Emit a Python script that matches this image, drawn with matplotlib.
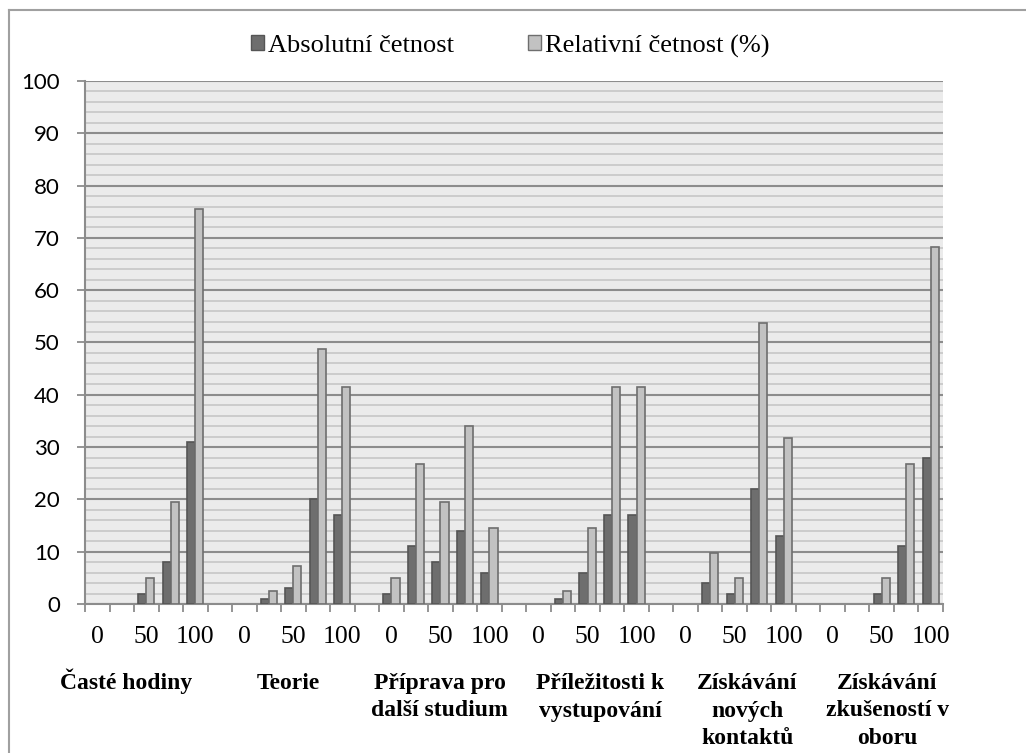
import matplotlib
matplotlib.use("Agg")
import matplotlib.pyplot as plt
import matplotlib.transforms as mtransforms
from matplotlib.patches import Patch
from matplotlib.lines import Line2D
import numpy as np

# data
groups = ['Časté hodiny', 'Teorie', 'Příprava pro\ndalší studium',
          'Příležitosti k\nvystupování', 'Získávání\nnových\nkontaktů',
          'Získávání\nzkušeností v\noboru']
levels = ['0', '25', '50', '75', '100']
absolute = [[0, 0, 2, 8, 31],
            [0, 1, 3, 20, 17],
            [2, 11, 8, 14, 6],
            [0, 1, 6, 17, 17],
            [0, 4, 2, 22, 13],
            [0, 0, 2, 11, 28]]
relative = [[0, 0, 4.9, 19.5, 75.6],
            [0, 2.4, 7.3, 48.8, 41.5],
            [4.9, 26.8, 19.5, 34.1, 14.6],
            [0, 2.4, 14.6, 41.5, 41.5],
            [0, 9.8, 4.9, 53.7, 31.7],
            [0, 0, 4.9, 26.8, 68.3]]
series_names = ['Absolutní četnost', 'Relativní četnost (%)']

W, H = 1026, 753
dark_fc, dark_ec = '#6e6e6e', '#555555'
light_fc, light_ec = '#c2c2c2', '#6e6e6e'
serif = 'Liberation Serif'

fig = plt.figure(figsize=(W / 100, H / 100), dpi=100)
ax = fig.add_axes([85 / W, 1 - 604 / H, (943 - 85) / W, (604 - 81) / H])
ax.set_facecolor('#ebebeb')

# one blank slot between groups
slot = len(levels) + 1
n_slots = slot * len(groups) - 1
bw = 0.33
for g in range(len(groups)):
    x = g * slot + np.arange(len(levels))
    # no outline for empty bars, Excel draws nothing there
    lw_abs = [1.2 if v > 0 else 0 for v in absolute[g]]
    lw_rel = [1.2 if v > 0 else 0 for v in relative[g]]
    ax.bar(x - bw / 2, absolute[g], bw, color=dark_fc, edgecolor=dark_ec,
           linewidth=lw_abs, zorder=3)
    ax.bar(x + bw / 2, relative[g], bw, color=light_fc, edgecolor=light_ec,
           linewidth=lw_rel, zorder=3)

cat_labels = []
for g in range(len(groups)):
    cat_labels += levels + ['']
cat_labels = cat_labels[:n_slots]

ax.set_xlim(-0.5, n_slots - 0.5)
ax.set_ylim(0, 100)

# x: labels on every second slot, tick marks at slot borders
ax.set_xticks(np.arange(0, n_slots, 2))
ax.set_xticklabels([cat_labels[i] for i in range(0, n_slots, 2)],
                   fontfamily=serif, fontsize=18.5)
ax.set_xticks(np.arange(-0.5, n_slots, 1), minor=True)
ax.tick_params(axis='x', which='major', length=0, pad=16)
ax.tick_params(axis='x', which='minor', length=6, width=1.3, color='#8c8c8c')

# y: major every 10, minor grid every 2
ax.set_yticks(np.arange(0, 101, 10))
ax.set_yticks(np.arange(0, 101, 2), minor=True)
ax.tick_params(axis='y', which='major', length=6, width=1.3, color='#8c8c8c',
               pad=12, labelsize=16)
ax.tick_params(axis='y', which='minor', length=0)
for lab in ax.get_yticklabels():
    lab.set_fontfamily('Lato')
ax.yaxis.grid(True, which='major', color='#8c8c8c', linewidth=1.5, zorder=0)
ax.yaxis.grid(True, which='minor', color='#c6c6c6', linewidth=1.2, zorder=0)
ax.set_axisbelow(True)

for side in ['top', 'right']:
    ax.spines[side].set_visible(False)
for side in ['left', 'bottom']:
    ax.spines[side].set_color('#8c8c8c')
    ax.spines[side].set_linewidth(1.5)

# group names as separate lines under the axis
label_x = [1.17, 7.79, 13.97, 20.52, 26.52, 32.23]
trans = mtransforms.blended_transform_factory(ax.transData, fig.transFigure)
for g, name in enumerate(groups):
    for i, line in enumerate(name.split('\n')):
        y_px = 689 + i * 27.5
        ax.text(label_x[g], 1 - y_px / H, line, transform=trans,
                ha='center', va='baseline', fontfamily=serif,
                fontweight='bold', fontsize=17, clip_on=False)

handles = [Patch(facecolor=dark_fc, edgecolor=dark_ec, linewidth=1.0),
           Patch(facecolor=light_fc, edgecolor=light_ec, linewidth=1.0)]
fig.legend(handles, series_names, loc='center', ncol=2,
           bbox_to_anchor=(0.497, 1 - 46 / H), frameon=False,
           prop={'family': serif, 'size': 19}, handlelength=0.5,
           handleheight=0.5, handletextpad=0.15, columnspacing=2.8)

# outer chart border (left and top visible)
fig.add_artist(Line2D([9 / W, 9 / W], [0, 1 - 10 / H], color='#a0a0a0',
                      linewidth=1.5, transform=fig.transFigure))
fig.add_artist(Line2D([9 / W, 1], [1 - 10 / H, 1 - 10 / H], color='#a0a0a0',
                      linewidth=1.5, transform=fig.transFigure))

fig.savefig('out.png', dpi=100)
